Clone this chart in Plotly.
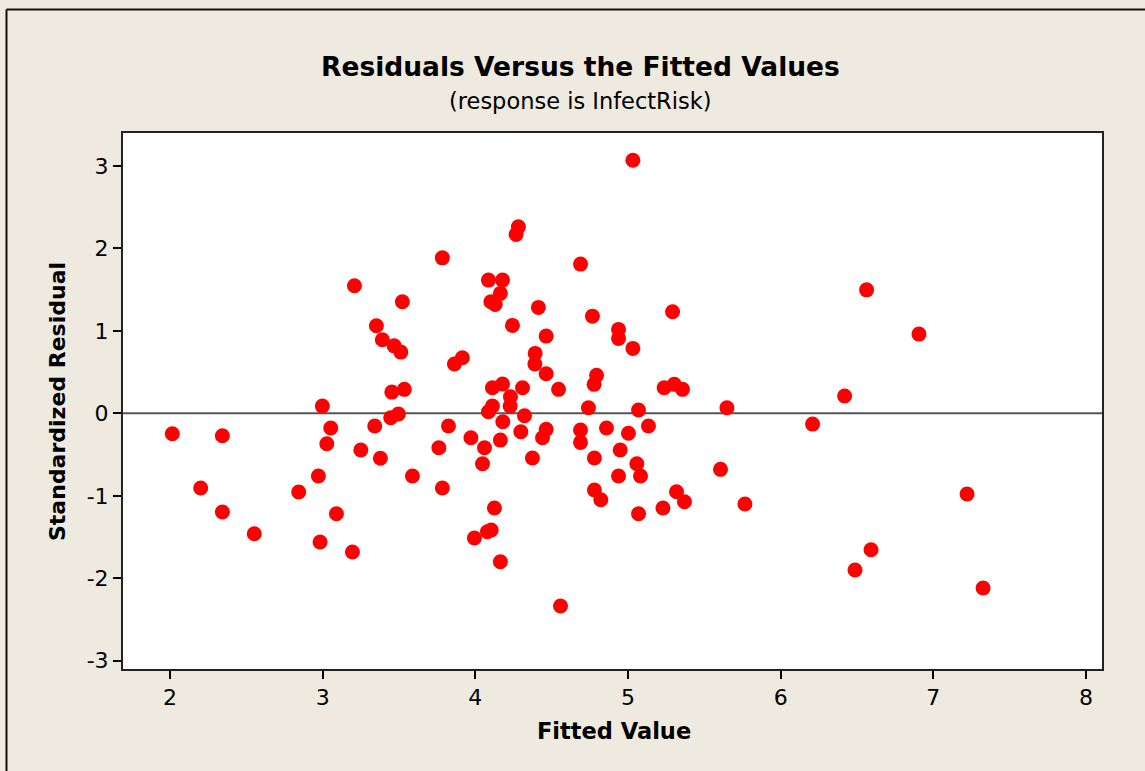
import plotly.graph_objects as go

fitted = [2.015, 2.201, 2.343, 2.343, 2.552, 2.843, 2.972, 2.983, 2.998, 3.027,
          3.053, 3.090, 3.195, 3.208, 3.250, 3.341, 3.352, 3.378, 3.391, 3.446,
          3.453, 3.468, 3.496, 3.512, 3.522, 3.535, 3.588, 3.761, 3.784, 3.784,
          3.824, 3.863, 3.915, 3.971, 3.994, 4.047, 4.060, 4.086, 4.086, 4.102,
          4.104, 4.079, 4.112, 4.112, 4.125, 4.130, 4.164, 4.164, 4.164, 4.178,
          4.178, 4.180, 4.228, 4.230, 4.243, 4.267, 4.282, 4.298, 4.309, 4.322,
          4.374, 4.392, 4.390, 4.413, 4.440, 4.464, 4.464, 4.464, 4.545, 4.558,
          4.689, 4.689, 4.689, 4.741, 4.767, 4.780, 4.780, 4.778, 4.794, 4.822,
          4.859, 4.938, 4.938, 4.949, 4.938, 5.003, 5.032, 5.032, 5.058, 5.069,
          5.069, 5.082, 5.134, 5.229, 5.237, 5.292, 5.303, 5.318, 5.357, 5.370,
          5.606, 5.648, 5.766, 6.209, 6.419, 6.487, 6.563, 6.592, 6.906, 7.221,
          7.326]
resid = [-0.247, -0.905, -0.272, -1.196, -1.459, -0.954, -0.760, -1.560, 0.088, -0.368,
         -0.178, -1.217, -1.681, 1.547, -0.445, -0.154, 1.062, -0.545, 0.892, -0.053,
         0.258, 0.819, -0.008, 0.743, 1.353, 0.291, -0.760, -0.417, 1.886, -0.905,
         -0.154, 0.598, 0.674, -0.296, -1.512, -0.611, -0.417, 1.616, 0.019, 1.353,
         -1.415, -1.435, 0.088, 0.310, -1.148, 1.321, 1.455, -0.324, -1.799, 1.616,
         0.355, -0.102, 0.088, 0.201, 1.067, 2.170, 2.262, -0.223, 0.310, -0.029,
         -0.542, 0.727, 0.598, 1.285, -0.296, 0.937, 0.480, -0.194, 0.291, -2.336,
         1.810, -0.202, -0.352, 0.068, 1.179, -0.542, -0.930, 0.352, 0.461, -1.047,
         -0.178, 1.018, 0.909, -0.445, -0.760, -0.242, 3.070, 0.788, -0.611, 0.040,
         -1.217, -0.760, -0.154, -1.148, 0.310, 1.232, 0.352, -0.950, 0.291, -1.072,
         -0.679, 0.068, -1.099, -0.130, 0.210, -1.899, 1.498, -1.653, 0.961, -0.978,
         -2.118]

x_ticks = [2, 3, 4, 5, 6, 7, 8]
y_ticks = [-3, -2, -1, 0, 1, 2, 3]

title_text = "Residuals Versus the Fitted Values"
subtitle_text = "(response is InfectRisk)"
x_label = "Fitted Value"
y_label = "Standardized Residual"

W, H = 1145, 771
L, R, T, B = 123, 1102, 133, 669
pw, ph = R - L, B - T

def px(xp):
    return (xp - L) / pw

def py(yp):
    return (B - yp) / ph

FONT = "DejaVu Sans"

fig = go.Figure()
fig.add_trace(go.Scatter(
    x=fitted, y=resid, mode="markers",
    marker=dict(color="#ff0000", size=15, line=dict(width=0)),
    showlegend=False, hoverinfo="x+y"))

fig.update_layout(
    width=W, height=H,
    margin=dict(l=L, r=W - R, t=T, b=H - B, pad=0),
    paper_bgcolor="#eeeae0",
    plot_bgcolor="#ffffff",
    font=dict(family=FONT, color="#000000", size=19),
    showlegend=False,
    xaxis=dict(range=[1.692, 8.105], tickvals=x_ticks, ticktext=[str(v) for v in x_ticks],
               ticks="outside", ticklen=8, tickwidth=2, tickcolor="#000",
               showline=True, linecolor="#222", linewidth=2, mirror=True,
               showgrid=False, zeroline=False, tickfont=dict(size=22, family=FONT)),
    yaxis=dict(range=[-3.10, 3.40], tickvals=y_ticks, ticktext=[str(v) for v in y_ticks],
               ticks="outside", ticklen=8, tickwidth=2, tickcolor="#000",
               showline=True, linecolor="#222", linewidth=2, mirror=True,
               showgrid=False, zeroline=False, tickfont=dict(size=22, family=FONT)),
    shapes=[
        dict(type="line", xref="paper", yref="y", x0=0, x1=1, y0=0, y1=0,
             line=dict(color="#555555", width=2), layer="below"),
        dict(type="line", xref="paper", yref="paper", x0=px(6.5), x1=px(1145), y0=py(9.5), y1=py(9.5),
             line=dict(color="#111", width=2)),
        dict(type="line", xref="paper", yref="paper", x0=px(6.5), x1=px(6.5), y0=py(9.5), y1=py(771),
             line=dict(color="#111", width=2)),
    ],
    annotations=[
        dict(text="<b>" + title_text + "</b>", xref="paper", yref="paper",
             x=px(580), y=py(66), xanchor="center", yanchor="middle", showarrow=False,
             font=dict(size=26.5, family=FONT)),
        dict(text=subtitle_text, xref="paper", yref="paper",
             x=px(580), y=py(101), xanchor="center", yanchor="middle", showarrow=False,
             font=dict(size=22.5, family=FONT)),
        dict(text="<b>" + x_label + "</b>", xref="paper", yref="paper",
             x=px(613.5), y=py(731), xanchor="center", yanchor="middle", showarrow=False,
             font=dict(size=22.5, family=FONT)),
        dict(text="<b>" + y_label + "</b>", xref="paper", yref="paper",
             x=px(57), y=py(402), xanchor="center", yanchor="middle", showarrow=False,
             textangle=-90, font=dict(size=22, family=FONT)),
    ],
)

fig.write_html("out.html", config={"displayModeBar": False},
               post_script="document.body.style.margin='0';document.body.style.overflow='hidden';")
